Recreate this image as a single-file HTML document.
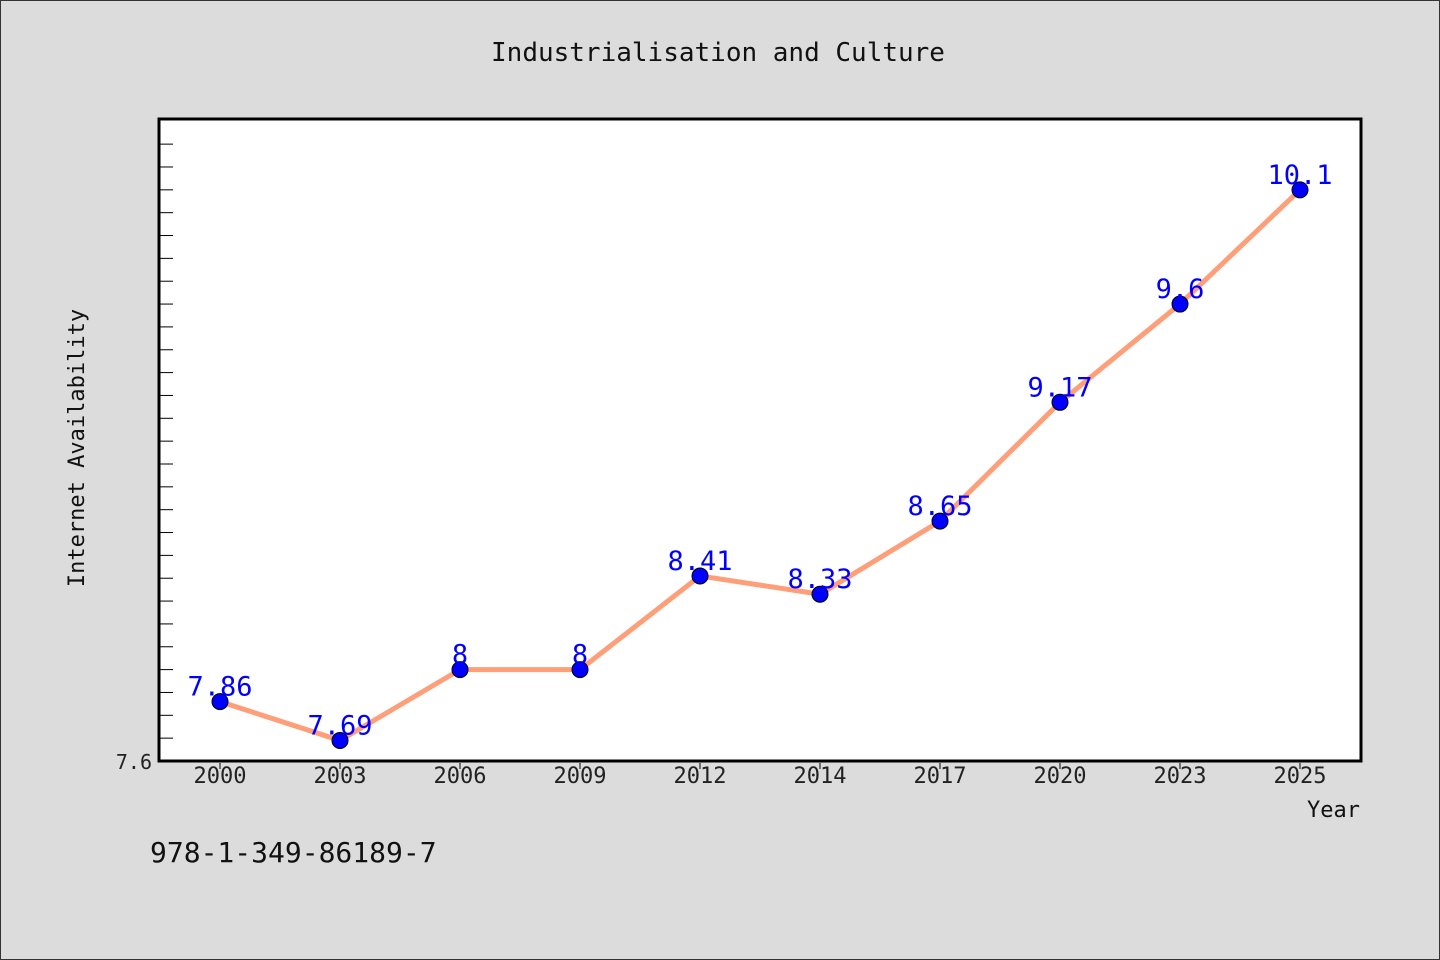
<!DOCTYPE html>
<html><head><meta charset="utf-8"><style>
html,body{margin:0;padding:0;background:#dcdcdc;}
svg{display:block;}
text{font-family:"WenQuanYi Zen Hei","DejaVu Sans Mono",monospace;}
</style></head><body>
<svg width="1440" height="960" viewBox="0 0 1440 960" id="chart">
<rect x="0.5" y="0.5" width="1439" height="959" fill="#dcdcdc" stroke="#333"/>
<text x="718" y="61" text-anchor="middle" font-size="26" fill="#111">Industrialisation and Culture</text>
<rect x="159" y="119" width="1202" height="642" fill="#fff" stroke="#000" stroke-width="3"/>
<g id="yticks"></g>
<g id="xticks"></g>
<g id="series"></g>
<text x="1360" y="817" text-anchor="end" font-size="22" fill="#111">Year</text>
<text transform="translate(84,448) rotate(-90)" text-anchor="middle" font-size="22" fill="#111">Internet Availability</text>
<text x="150" y="862" font-size="28" fill="#111">978-1-349-86189-7</text>
</svg>
<script>
const categories = ["2000","2003","2006","2009","2012","2014","2017","2020","2023","2025"];
const values = [7.86,7.69,8,8,8.41,8.33,8.65,9.17,9.6,10.1];
const valueLabels = ["7.86","7.69","8","8","8.41","8.33","8.65","9.17","9.6","10.1"];
const yMin = 7.6, yMax = 10.41;
const NS="http://www.w3.org/2000/svg";
const L=159,R=1361,T=119,B=761;
function y(v){return B-(v-yMin)/(yMax-yMin)*(B-T);}
function x(i){return 220+i*120;}
function mk(tag,attrs,parent){const e=document.createElementNS(NS,tag);for(const k in attrs)e.setAttribute(k,attrs[k]);parent.appendChild(e);return e;}
const yt=document.getElementById('yticks');
for(let k=1;;k++){const v=yMin+k*0.1;if(v>yMax-0.02)break;
 const t=mk('line',{x1:L+1,x2:L+14,y1:y(v),y2:y(v),stroke:'#000','stroke-width':1},yt);
 
 }
const yl=mk('text',{x:152,y:B+8,'text-anchor':'end','font-size':20,fill:'#222'},yt);
yl.textContent="7.6";


const xt=document.getElementById('xticks');
categories.forEach((c,i)=>{
 const tk=mk('line',{x1:x(i),x2:x(i),y1:B+2,y2:B+8,stroke:'#000','stroke-width':1},xt);
 
 
 const t=mk('text',{x:x(i),y:B+22,'text-anchor':'middle','font-size':22,fill:'#222'},xt);
 t.textContent=c;
 
 
});
const s=document.getElementById('series');
const pl=mk('polyline',{points:values.map((v,i)=>x(i)+','+y(v)).join(' '),fill:'none',stroke:'#ff9f7a','stroke-width':5,'stroke-linejoin':'round'},s);


values.forEach((v,i)=>{
 const c=mk('circle',{cx:x(i),cy:y(v),r:8,fill:'#0000ff',stroke:'#000','stroke-width':1},s);
 
 
 const t=mk('text',{x:x(i),y:y(v)-6,'text-anchor':'middle','font-size':27,fill:'#0000ff'},s);
 t.textContent=valueLabels[i];
 
 
});
</script>
</body></html>
